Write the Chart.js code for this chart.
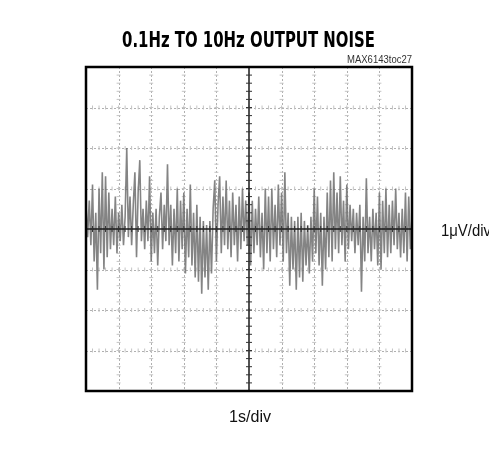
<!DOCTYPE html>
<html>
<head>
<meta charset="utf-8">
<script src="https://cdn.jsdelivr.net/npm/chart.js@4.4.1/dist/chart.umd.min.js"></script>
<style>
  html, body { margin: 0; padding: 0; background: #fff; }
  canvas { display: block; }
</style>
</head>
<body>
<canvas id="c" width="489" height="452"></canvas>
<script>
// ---- data (µV, sampled every 0.05 s over 10 s) ----
const noiseUV = [
  0.6, -0.2, 0.7, -0.4, 1.1, -0.8, 0.4, -1.5, 1.0, -0.6,
  1.4, -1.0, 1.3, -0.7, 0.9, -0.5, 0.5, -0.4, 0.8, -0.6,
  0.4, -0.3, 0.6, -0.4, 0.3, 2.0, -0.2, 0.8, -0.4, 0.6,
  1.4, -0.7, 0.9, 1.7, -0.3, 0.5, -0.5, 0.7, -0.3, 1.3,
  -0.8, 0.4, -0.6, 0.5, -0.9, 0.3, 0.9, -0.5, 0.6, -0.3,
  1.6, -0.4, 0.6, -0.9, 0.5, -0.6, 1.0, -0.8, 0.7, -0.5,
  0.9, -1.1, 0.5, -0.7, 1.1, -0.9, 0.4, -1.2, 0.6, -1.3,
  0.3, -1.6, 0.2, -1.2, 0.1, -1.5, 0.2, -1.1, 0.5, 1.2,
  -0.8, 0.6, 1.3, -0.6, 0.8, -0.4, 1.2, -0.5, 0.7, -0.7,
  0.9, -0.4, 0.6, -0.8, 0.8, -0.5, 1.0, -0.3, 0.7, -0.4,
  0.9, -0.9, 0.7, -0.6, 0.5, -0.4, 0.8, -0.7, 0.4, -1.0,
  1.0, -0.6, 0.8, -0.8, 1.0, -0.5, 0.6, -0.7, 1.1, -0.4,
  0.9, -0.8, 1.4, -0.6, 0.4, -1.4, 0.3, -1.0, 0.2, -1.5,
  0.3, -1.2, 0.4, -1.3, 0.2, -0.9, 0.1, -1.1, 0.3, -0.8,
  1.0, -0.6, 0.8, -0.9, 0.4, -1.4, 0.3, -1.0, 0.9, -0.7,
  1.2, -0.8, 1.4, -0.5, 0.9, -0.6, 1.3, -0.4, 0.7, -0.8,
  1.1, -0.5, 0.6, -0.3, 0.5, -0.6, 0.4, -0.4, 0.6, -1.55,
  0.3, -0.8, 1.25, -0.6, 0.3, -0.8, 0.5, -0.5, 0.4, -0.9,
  0.9, -1.0, 0.7, -0.6, 1.0, -0.7, 0.6, -0.6, 0.7, -0.4,
  1.0, -0.5, 0.4, -0.7, 0.5, -0.6, 0.9, -0.8, 0.8, -0.5,
  0.3
];
const sampleLabels = noiseUV.map((_, i) => (i * 0.05).toFixed(2));
const xDivisions = [0, 1, 2, 3, 4, 5, 6, 7, 8, 9, 10];       // seconds (1 s/div)
const yDivisions = [-4, -3, -2, -1, 0, 1, 2, 3, 4];          // µV (1 µV/div)
const titleText = '0.1Hz TO 10Hz OUTPUT NOISE';
const tocText = 'MAX6143toc27';
const yUnitText = '1\u03BCV/div';
const xUnitText = '1s/div';

function condensedText(ctx, text, x, y, targetWidth) {
  const w = ctx.measureText(text).width;
  const s = targetWidth / w;
  ctx.save();
  ctx.translate(x, y);
  ctx.scale(s, 1);
  ctx.fillText(text, 0, 0);
  ctx.restore();
}

const scopePlugin = {
  id: 'scope',
  beforeDatasetsDraw(chart) {
    const ctx = chart.ctx, a = chart.chartArea;
    const xs = chart.scales.xd, ys = chart.scales.y;
    ctx.save();
    ctx.strokeStyle = '#b0b0b0';
    ctx.lineWidth = 1;
    ctx.setLineDash([2, 2]);
    xDivisions.forEach(v => {
      if (v === 5 || v === 0 || v === 10) return;
      const px = Math.round(xs.getPixelForValue(v)) + 0.5;
      ctx.beginPath(); ctx.moveTo(px, a.top); ctx.lineTo(px, a.bottom); ctx.stroke();
    });
    yDivisions.forEach(v => {
      if (v === 0 || v === -4 || v === 4) return;
      const py = Math.round(ys.getPixelForValue(v)) + 0.5;
      ctx.beginPath(); ctx.moveTo(a.left, py); ctx.lineTo(a.right, py); ctx.stroke();
    });
    ctx.setLineDash([]);
    ctx.strokeStyle = '#c4c4c4';
    xDivisions.forEach(v => {
      if (v === 5 || v === 0 || v === 10) return;
      const px = xs.getPixelForValue(v);
      for (let k = -4; k <= 4; k += 0.2) {
        const py = ys.getPixelForValue(k);
        ctx.beginPath(); ctx.moveTo(px - 2, py); ctx.lineTo(px + 2, py); ctx.stroke();
      }
    });
    yDivisions.forEach(v => {
      if (v === 0 || v === -4 || v === 4) return;
      const py = ys.getPixelForValue(v);
      for (let k = 0; k <= 10; k += 0.2) {
        const px = xs.getPixelForValue(k);
        ctx.beginPath(); ctx.moveTo(px, py - 2); ctx.lineTo(px, py + 2); ctx.stroke();
      }
    });
    ctx.restore();
  },
  afterDatasetsDraw(chart) {
    const ctx = chart.ctx, a = chart.chartArea;
    const xs = chart.scales.xd, ys = chart.scales.y;
    ctx.save();
    const cx = xs.getPixelForValue(5), cy = ys.getPixelForValue(0);
    ctx.strokeStyle = '#1a1a1a';
    ctx.lineWidth = 1.5;
    ctx.beginPath(); ctx.moveTo(a.left, cy); ctx.lineTo(a.right, cy); ctx.stroke();
    ctx.beginPath(); ctx.moveTo(cx, a.top); ctx.lineTo(cx, a.bottom); ctx.stroke();
    ctx.lineWidth = 1;
    ctx.strokeStyle = '#333';
    for (let k = 0; k <= 10.001; k += 0.2) {
      const px = xs.getPixelForValue(k);
      ctx.beginPath(); ctx.moveTo(px, cy - 3); ctx.lineTo(px, cy + 3); ctx.stroke();
    }
    for (let k = -4; k <= 4.001; k += 0.2) {
      const py = ys.getPixelForValue(k);
      ctx.beginPath(); ctx.moveTo(cx - 3, py); ctx.lineTo(cx + 3, py); ctx.stroke();
    }
    ctx.strokeStyle = '#000';
    ctx.lineWidth = 2.5;
    ctx.strokeRect(a.left, a.top, a.right - a.left, a.bottom - a.top);
    // texts
    ctx.fillStyle = '#000';
    ctx.textBaseline = 'alphabetic';
    ctx.textAlign = 'left';
    ctx.font = 'bold 21px "DejaVu Sans", sans-serif';
    condensedText(ctx, titleText, 122, 47, 253);
    ctx.font = '11px "Liberation Sans", Arial, sans-serif';
    ctx.fillStyle = '#333';
    condensedText(ctx, tocText, 347, 63, 65);
    ctx.fillStyle = '#111';
    ctx.font = '16px "Liberation Sans", Arial, sans-serif';
    condensedText(ctx, yUnitText, 441, 236, 50);
    condensedText(ctx, xUnitText, 229, 422, 42);
    ctx.restore();
  }
};

new Chart(document.getElementById('c'), {
  type: 'line',
  data: {
    labels: sampleLabels,
    datasets: [{
      data: noiseUV,
      borderColor: 'rgba(110,110,110,0.85)',
      borderWidth: 1.6,
      pointRadius: 0,
      tension: 0,
      fill: false
    }]
  },
  options: {
    responsive: false,
    animation: false,
    devicePixelRatio: 1,
    layout: { padding: { left: 86, top: 67, right: 77, bottom: 61 } },
    plugins: { legend: { display: false }, tooltip: { enabled: false }, title: { display: false } },
    scales: {
      x: { type: 'category', display: false, offset: false },
      xd: { type: 'linear', display: false, min: 0, max: 10, axis: 'x' },
      y: { type: 'linear', display: false, min: -4, max: 4 }
    }
  },
  plugins: [scopePlugin]
});
</script>
</body>
</html>
